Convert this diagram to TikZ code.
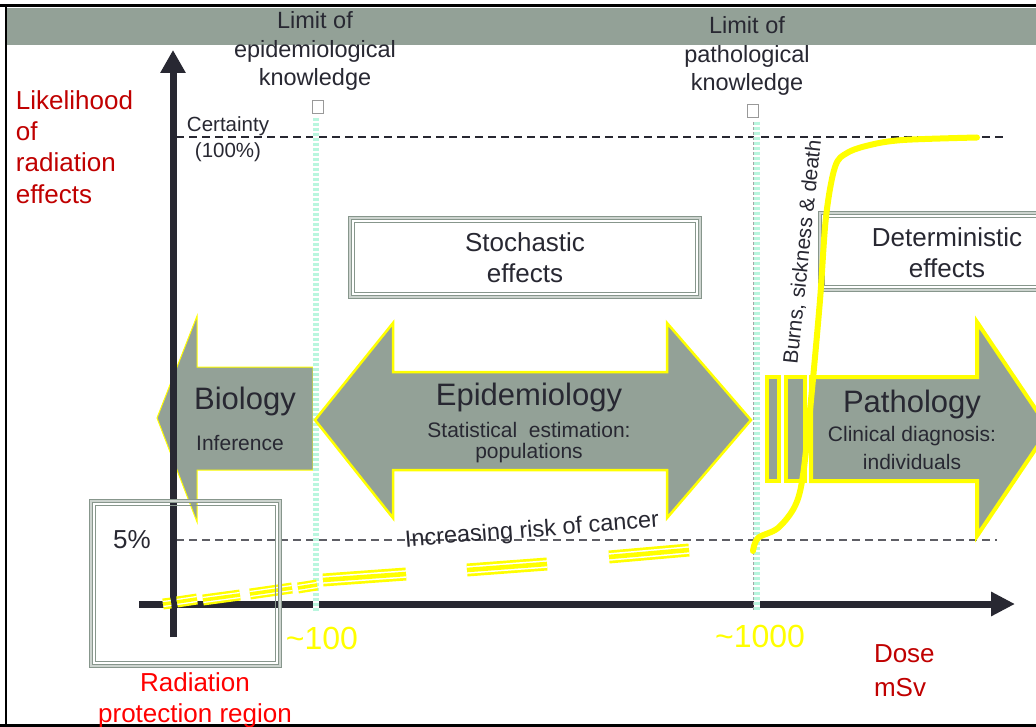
\documentclass[tikz,border=0pt]{standalone}
\usepackage{fontspec}
\setmainfont{Liberation Sans}
\usetikzlibrary{arrows.meta}
\definecolor{hdr}{RGB}{147,161,151}
\definecolor{ink}{RGB}{40,40,50}
\definecolor{dred}{RGB}{192,0,0}
\definecolor{bred}{RGB}{255,0,0}
\definecolor{yel}{RGB}{255,255,0}
\definecolor{mint}{RGB}{185,246,222}
\definecolor{bxg}{RGB}{135,150,140}
\definecolor{bxl}{RGB}{205,212,207}
\begin{document}
\begin{tikzpicture}[x=1pt,y=-1pt,
  every node/.style={inner sep=0pt, outer sep=0pt, text=ink},
  tribox/.style={draw=bxg, line width=1.3, double=bxl, double distance=1.2},
  bigarrow/.style={fill=hdr, draw=yel, line join=miter},
  ydash/.style={draw=yel, line width=13, postaction={draw=white, line width=1.5, double=yel, double distance=4.6}},
  ydashs/.style={draw=yel, line width=11, postaction={draw=white, line width=1.3, double=yel, double distance=3.6}},
  mintline/.style={draw=mint, line width=6.5, dash pattern=on 3 off 2},
  refline/.style={line width=1.1, dash pattern=on 8 off 5},
  fLim/.style={font=\fontsize{23.5}{28.5}\selectfont, align=center},
  fBig/.style={font=\fontsize{31}{36}\selectfont},
  fSub/.style={font=\fontsize{21}{24}\selectfont, align=center},
  fBox/.style={font=\fontsize{26}{31}\selectfont, align=center},
  fNum/.style={font=\fontsize{32}{36}\selectfont, text=yel}
]
\useasboundingbox (0,0) rectangle (1036,727);
\begin{scope}
\clip (0,0) rectangle (1036,727);
\fill[white] (0,0) rectangle (1036,727);
% header band and frame
\fill[hdr] (7,8) rectangle (1036,45);
\draw[black, line width=3] (0,6) -- (1036,6);
\draw[black, line width=2] (6,6) -- (6,727);
\draw[black, line width=2.5] (0,725.5) -- (1036,725.5);

% coordinates
\coordinate (yb) at (173,637);
\coordinate (yt) at (173,50);
\coordinate (xl) at (139,604);
\coordinate (xr) at (1015,604);
\coordinate (c0) at (176,137);
\coordinate (c1) at (1004,137);
\coordinate (f0) at (176,540);
\coordinate (f1) at (997,540);
\coordinate (m1t) at (316,118);
\coordinate (m1b) at (316,611);
\coordinate (m2t) at (757,122);
\coordinate (m2b) at (757,611);

% reference dashed lines
\draw[refline, draw=ink] (c0) -- (c1);
\draw[refline, draw=ink!75] (f0) -- (f1);

% Biology arrow (under the axis)
\draw[bigarrow, line width=1] (157,418) -- (197,316) -- (197,367) -- (313,367) -- (313,470) -- (197,470) -- (197,522) -- cycle;

% axes
\draw[ink, line width=7, -{Triangle[length=23pt,width=24pt]}] (yb) -- (yt);
\draw[ink, line width=7, -{Triangle[length=24pt,width=23pt]}] (xl) -- (xr);

% limit lines
\draw[white, line width=6.5] (m1t) -- (m1b);
\draw[mintline] (m1t) -- (m1b);
\draw[white, line width=6.5] (m2t) -- (m2b);
\draw[mintline] (m2t) -- (m2b);
\draw[gray!70, line width=0.6, dash pattern=on 3 off 2] ([xshift=-3.8pt]m2t) -- ([xshift=-3.8pt]m2b);
\node[draw=gray!80, line width=0.8, minimum width=11pt, minimum height=13pt] (sq1) at (318,106.5) {};
\node[draw=gray!80, line width=0.8, minimum width=11pt, minimum height=13pt] (sq2) at (753,111) {};

% Epidemiology double arrow
\draw[bigarrow, line width=2.5] (315,420) -- (393,323) -- (393,372) -- (667,372) -- (667,323) -- (751,420) -- (667,518) -- (667,470) -- (393,470) -- (393,518) -- cycle;

% Pathology arrow with bars
\draw[bigarrow, line width=4] (767,377) rectangle (779,481);
\draw[bigarrow, line width=4] (786,377) rectangle (805,481);
\draw[bigarrow, line width=4] (811,377) -- (977,377) -- (977,322) -- (1049,429) -- (977,536) -- (977,481) -- (811,481) -- cycle;

% yellow rising dashes
\draw[ydashs] (163,604) -- (171,603);
\draw[ydashs] (177,602) -- (197,599);
\draw[ydashs] (203,600) -- (240,595);
\draw[ydashs] (250,594) -- (292,588);
\draw[ydashs] (298,588) -- (317,585);
\draw[ydash] (323,580) -- (406,574);
\draw[ydash] (467,570) -- (547,564);
\draw[ydash] (609,557) -- (689,550);

% boxes
\node[tribox, minimum width=350pt, minimum height=79pt, fBox] (stoch) at (525,257.5) {Stochastic\\effects};
\draw[bxg, line width=0.9] ([shift={(4.5,4.5)}]stoch.north west) rectangle ([shift={(-4.5,-4.5)}]stoch.south east);
\node[tribox, minimum width=223pt, minimum height=77pt] (detbox) at (931.5,251.5) {};
\draw[bxg, line width=0.9] ([shift={(4.5,4.5)}]detbox.north west) rectangle ([shift={(-4.5,-4.5)}]detbox.south east);
\node[fBox] (det) at (947,253) {Deterministic\\effects};
\node[tribox, minimum width=189pt, minimum height=165pt] (rpbox) at (185.5,583.5) {};
\draw[bxg, line width=0.9] ([shift={(4.5,4.5)}]rpbox.north west) rectangle ([shift={(-4.5,-4.5)}]rpbox.south east);

% deterministic curve
\draw[yel, line width=6, line cap=round, line join=round] plot[smooth, tension=0.55] coordinates {(753,551) (758,538) (778,528) (795,506) (803,475) (811,400) (820,300) (826,217) (835,167) (847,153) (870,145) (903,140) (977,137.5)};

% texts
\node[fLim] (lim1) at (315,51) {Limit of\\epidemiological\\knowledge};
\node[fLim] (lim2) at (747,56) {Limit of\\pathological\\knowledge};
\node[font=\fontsize{26}{31.3}\selectfont, align=left, text=dred, anchor=west] (ylab) at (16,147) {Likelihood\\of\\radiation\\effects};
\node[font=\fontsize{20.5}{26}\selectfont, align=center] (cert) at (228,139) {Certainty\\(100\%)};
\node[font=\fontsize{26}{30}\selectfont] (five) at (132,540) {5\%};
\node[fBig] (bio) at (245,401) {Biology};
\node[fSub] (inf) at (240,443) {Inference};
\node[fBig] (epi) at (529,397) {Epidemiology};
\node[fSub] (stat) at (529,430) {Statistical~ estimation:};
\node[fSub] (pop) at (529,453) {populations};
\node[fBig] (path) at (912,404) {Pathology};
\node[fSub] (clin) at (912,436) {Clinical diagnosis:};
\node[fSub] (indiv) at (912,462) {individuals};
\node[font=\fontsize{21}{24}\selectfont, rotate=84] (burns) at (803,252) {Burns, sickness \& death};
\node[font=\fontsize{23.5}{26}\selectfont, rotate=4.5] (risk) at (532,531) {Increasing risk of cancer};
\node[fNum] (n100) at (322,638) {\textasciitilde100};
\node[fNum] (n1000) at (760,636) {\textasciitilde1000};
\node[font=\fontsize{26}{34}\selectfont, align=left, text=dred, anchor=west] (dose) at (874,671) {Dose\\mSv};
\node[font=\fontsize{26}{31}\selectfont, align=center, text=bred] (rp) at (195,700) {Radiation\\protection region};
\end{scope}
\end{tikzpicture}
\end{document}
